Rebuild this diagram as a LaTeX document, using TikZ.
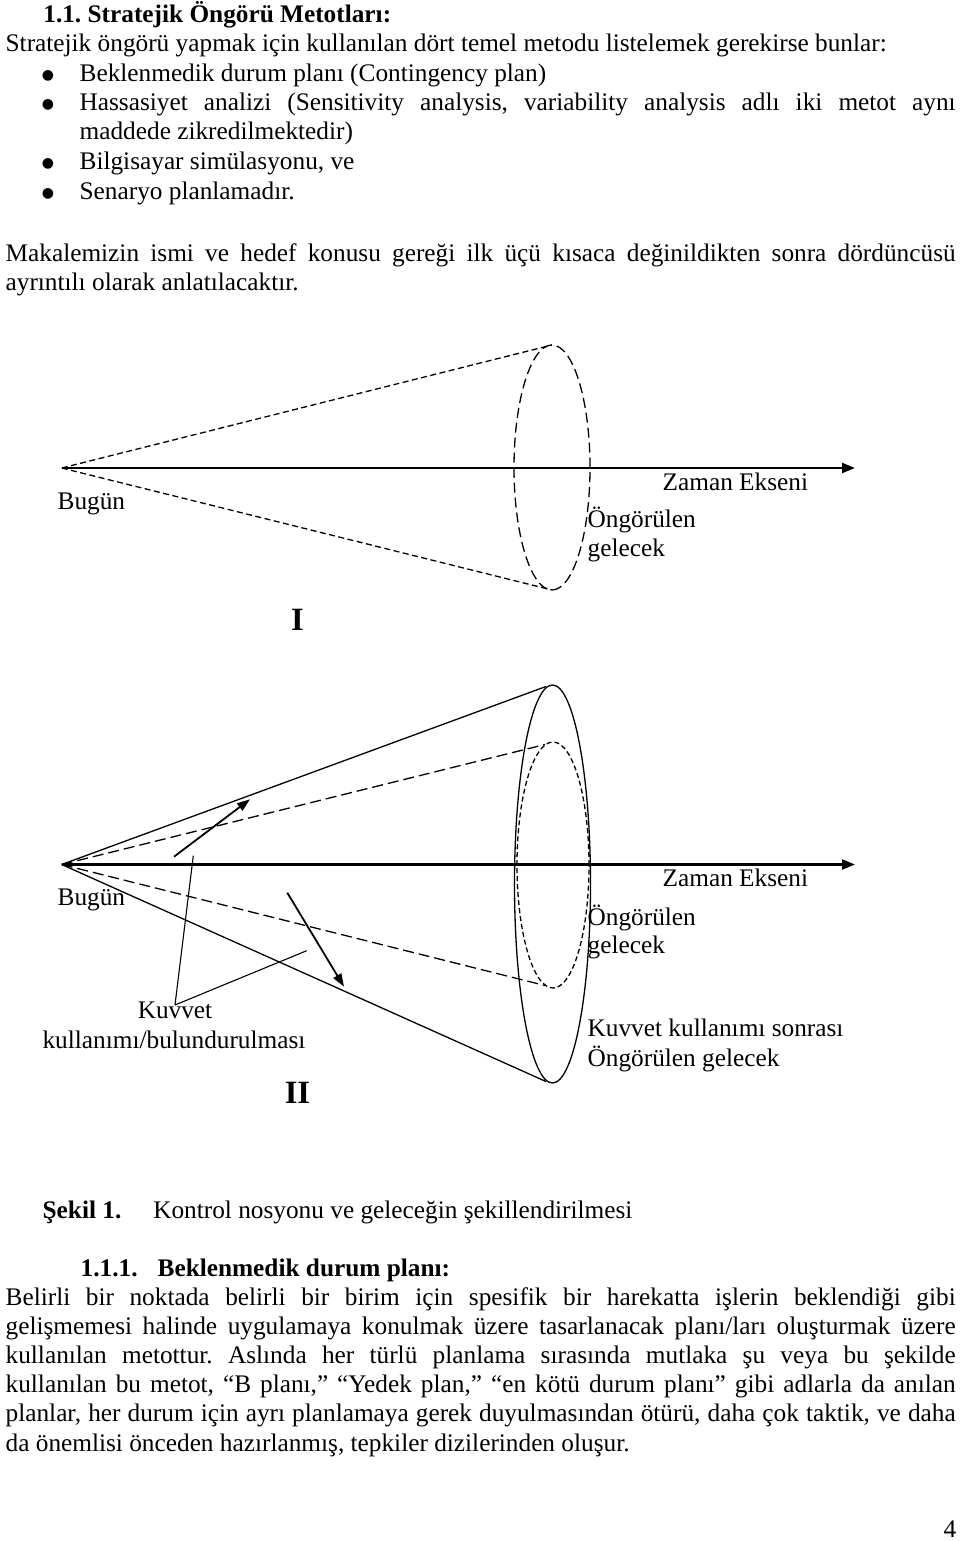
\documentclass[tikz,border=0pt]{standalone}
\usepackage{fontspec}
\setmainfont{Liberation Serif}
\newfontfamily\dotfont{DejaVu Sans}
\usetikzlibrary{arrows.meta}
\newcommand{\jline}[2]{\makebox[#1][s]{#2}}
\frenchspacing

\begin{document}
\begin{tikzpicture}[x=1pt,y=-1pt,line width=1.3pt]
    % `txt' is used for every line of text, placed at its baseline.
    % `numeral' is used for the bold I and II under the cones.
    % `axis' and `force' are the arrows; `pointer' joins a label to its arrows.
    \tikzstyle{txt} = [anchor=base west,inner sep=0pt,font=\fontsize{25.3}{29.5}\selectfont]
    \tikzstyle{bullet} = [anchor=center,inner sep=0pt,font=\fontsize{14}{14}\dotfont]
    \tikzstyle{numeral} = [anchor=base,inner sep=0pt,font=\fontsize{32.5}{34}\selectfont\bfseries]
    \tikzstyle{axis} = [line width=2.2pt,-{Triangle[length=13pt,width=10pt]}]
    \tikzstyle{force} = [line width=1.8pt,-{Triangle[length=13pt,width=9pt]}]
    \tikzstyle{pointer} = [line width=1.1pt]
    \tikzstyle{shortdash} = [dash pattern=on 6pt off 3.5pt]
    \tikzstyle{longdash} = [dash pattern=on 10pt off 5pt]
    %
    \useasboundingbox (0,0) rectangle (960,1541);
    %
    % Text above the figure.
    \node[txt] (head) at (42.7,22.7) {\bfseries 1.1. Stratejik Öngörü Metotları:};
    \node[txt] (intro) at (5,51.7) {Stratejik öngörü yapmak için kullanılan dört temel metodu listelemek gerekirse bunlar:};
    \foreach \y/\name in {81.7/b1,111/b2,169.5/b3,199.5/b4}
      \node[bullet] (\name) at (48,\y-6) {●};
    \node[txt] (item1) at (79,81.7) {Beklenmedik durum planı (Contingency plan)};
    \node[txt] (item2) at (79,111) {\jline{876pt}{Hassasiyet analizi (Sensitivity analysis, variability analysis adlı iki metot aynı}};
    \node[txt] (item2b) at (79,140) {maddede zikredilmektedir)};
    \node[txt] (item3) at (79,169.5) {Bilgisayar simülasyonu, ve};
    \node[txt] (item4) at (79,199.5) {Senaryo planlamadır.};
    \node[txt] (par1) at (5,261) {\jline{950pt}{Makalemizin ismi ve hedef konusu gereği ilk üçü kısaca değinildikten sonra dördüncüsü}};
    \node[txt] (par1b) at (5,290) {ayrıntılı olarak anlatılacaktır.};
    %
    % Cone I: the forecast future.
    \coordinate (apexI) at (61.7,468);
    \coordinate (endI) at (855,468);
    \coordinate (ellI) at (552,467.5);
    \coordinate (topI) at (552,345);
    \coordinate (botI) at (552,590);
    \draw[longdash] (ellI) ellipse [x radius=38pt,y radius=122.5pt];
    \draw[shortdash] (apexI) -- (topI) (apexI) -- (botI);
    \draw[axis] (apexI) -- (endI);
    \node[txt] (zamanI) at (662,490) {Zaman Ekseni};
    \node[txt] (bugunI) at (57,509) {Bugün};
    \node[txt] (ongI) at (587,527) {Öngörülen};
    \node[txt] (gelI) at (587,556.5) {gelecek};
    \node[numeral] (one) at (297.5,630.7) {I};
    %
    % Cone II: the future shaped by the use of force.
    \coordinate (apexII) at (61.7,864.5);
    \coordinate (endII) at (855,864.5);
    \coordinate (ellII) at (552.5,884);
    \coordinate (topII) at (546,686.5);
    \coordinate (botII) at (546,1081.5);
    \coordinate (inII) at (553,865);
    \coordinate (intopII) at (545,744.5);
    \coordinate (inbotII) at (545,985.5);
    \draw (ellII) ellipse [x radius=38pt,y radius=199pt];
    \draw (apexII) -- (topII) (apexII) -- (botII);
    \draw[dash pattern=on 5pt off 3pt] (inII) ellipse [x radius=36pt,y radius=123pt];
    \draw[dash pattern=on 11pt off 5pt] (apexII) -- (intopII) (apexII) -- (inbotII);
    \draw[axis] (apexII) -- (endII);
    \coordinate (upS) at (174,856.7);
    \coordinate (upE) at (250,799.3);
    \coordinate (downS) at (287.3,892.7);
    \coordinate (downE) at (344,986.7);
    \draw[force] (upS) -- (upE);
    \draw[force] (downS) -- (downE);
    \coordinate (kuvTip) at (175,1005);
    \draw[pointer] (kuvTip) -- (193.3,855.7) (kuvTip) -- (306.7,950.7);
    \node[txt] (zamanII) at (662,886.7) {Zaman Ekseni};
    \node[txt] (bugunII) at (57,905.7) {Bugün};
    \node[txt] (ongII) at (587,925) {Öngörülen};
    \node[txt] (gelII) at (587,953.5) {gelecek};
    \node[txt,anchor=base] (kuv) at (175,1018.3) {Kuvvet};
    \node[txt,anchor=base] (kullanim) at (174,1048.3) {kullanımı/bulundurulması};
    \node[txt] (sonra) at (587,1036.7) {Kuvvet kullanımı sonrası};
    \node[txt] (sonra2) at (587,1066.7) {Öngörülen gelecek};
    \node[numeral] (two) at (297.5,1103.3) {II};
    %
    % Caption and the text below the figure.
    \node[txt] (sekil) at (42,1218) {\bfseries Şekil 1.};
    \node[txt] (caption) at (152.6,1218) {Kontrol nosyonu ve geleceğin şekillendirilmesi};
    \node[txt] (subnum) at (80,1276.7) {\bfseries 1.1.1.};
    \node[txt] (subhead) at (157,1276.7) {\bfseries Beklenmedik durum planı:};
    \node[txt] (l1) at (5,1305) {\jline{950pt}{Belirli bir noktada belirli bir birim için spesifik bir harekatta işlerin beklendiği gibi}};
    \node[txt] (l2) at (5,1334.2) {\jline{950pt}{gelişmemesi halinde uygulamaya konulmak üzere tasarlanacak planı/ları oluşturmak üzere}};
    \node[txt] (l3) at (5,1363.4) {\jline{950pt}{kullanılan metottur. Aslında her türlü planlama sırasında mutlaka şu veya bu şekilde}};
    \node[txt] (l4) at (5,1392.6) {\jline{950pt}{kullanılan bu metot, “B planı,” “Yedek plan,” “en kötü durum planı” gibi adlarla da anılan}};
    \node[txt] (l5) at (5,1421.8) {\jline{950pt}{planlar, her durum için ayrı planlamaya gerek duyulmasından ötürü, daha çok taktik, ve daha}};
    \node[txt] (l6) at (5,1451) {da önemlisi önceden hazırlanmış, tepkiler dizilerinden oluşur.};
    \node[txt] (page) at (943,1537) {4};
\end{tikzpicture}
\end{document}
